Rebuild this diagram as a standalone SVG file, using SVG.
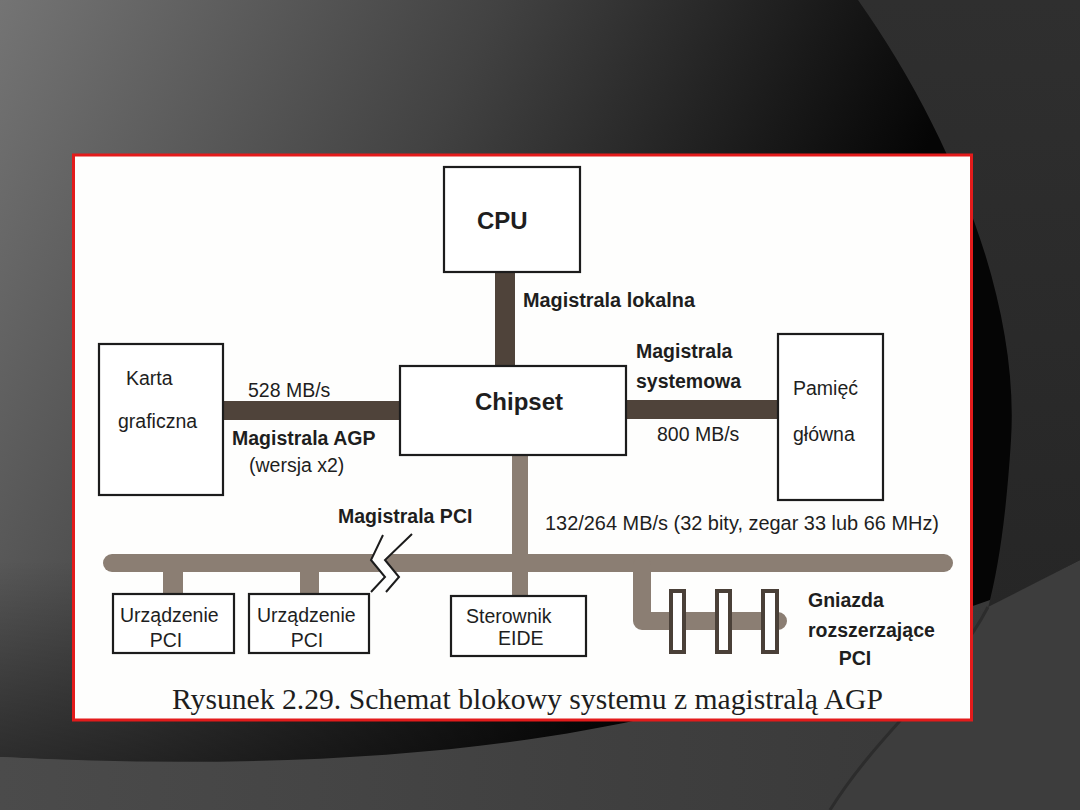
<svg xmlns="http://www.w3.org/2000/svg" width="1080" height="810" viewBox="0 0 1080 810">
  <defs>
    <linearGradient id="bg" gradientUnits="userSpaceOnUse" x1="0" y1="0" x2="800" y2="400">
      <stop offset="0" stop-color="#747474"/>
      <stop offset="0.5" stop-color="#424242"/>
      <stop offset="1" stop-color="#050505"/>
    </linearGradient>
    <linearGradient id="shade" x1="0" y1="0" x2="0" y2="1">
      <stop offset="0" stop-color="#000" stop-opacity="0"/>
      <stop offset="1" stop-color="#000" stop-opacity="0.45"/>
    </linearGradient>
    <linearGradient id="bottomband" x1="0" y1="0" x2="1" y2="0">
      <stop offset="0" stop-color="#4b4b4b"/>
      <stop offset="1" stop-color="#383838"/>
    </linearGradient>
    <linearGradient id="rightarc" x1="0" y1="0" x2="0" y2="1">
      <stop offset="0" stop-color="#2f2f2f"/>
      <stop offset="1" stop-color="#262626"/>
    </linearGradient>
    <style>
      .box { fill: #ffffff; stroke: #1c1c1c; stroke-width: 2.2; }
      .lbl { font-family: "Liberation Sans", Arial, sans-serif; font-size: 19.5px; fill: #1e1e1e; }
      .b { font-weight: bold; }
      .big { font-family: "Liberation Sans", Arial, sans-serif; font-size: 24px; font-weight: bold; fill: #1e1e1e; }
      .dark { fill: #4f433a; }
      .light { fill: #8b7e73; }
      .slot { fill: #ffffff; stroke: #4a4038; stroke-width: 4; }
    </style>
  </defs>

  <!-- slide background -->
  <rect x="0" y="0" width="1080" height="810" fill="url(#bg)"/>
  <path d="M0 560 L700 560 L700 760 C 450 770 250 770 0 757 Z" fill="url(#shade)"/>
  <path d="M0 757 C 250 770 480 757 660 715 L 990 600 L 990 810 L 0 810 Z" fill="url(#bottomband)"/>
  <path d="M858 0 C 950 130 1020 300 1011 440 C 1006 520 998 570 988 608 L 1080 560 L 1080 0 Z" fill="url(#rightarc)"/>
  <path d="M988 607 L 1080 560 L 1080 810 L 830 810 C 880 730 950 680 988 607 Z" fill="#3d3d3d"/>
  <path d="M988 607 C 950 680 880 730 830 810" fill="none" stroke="#2c2c2c" stroke-width="3"/>

  <!-- figure panel -->
  <rect x="73.5" y="155" width="898" height="565" fill="#fefefd" stroke="#e31b1b" stroke-width="3"/>

  <g id="connectors">
    <rect class="dark" x="495" y="270" width="20" height="97"/>
    <rect class="dark" x="222" y="401" width="180" height="19"/>
    <rect class="dark" x="625" y="400" width="154" height="19"/>
    <rect class="light" x="512" y="454" width="16" height="143"/>
    <line x1="112" y1="563" x2="944" y2="563" stroke="#8b7e73" stroke-width="18" stroke-linecap="round"/>
    <rect class="light" x="163" y="571" width="20" height="23"/>
    <rect class="light" x="300" y="571" width="19" height="23"/>
    <path d="M642 565 V 621 H 778" fill="none" stroke="#8b7e73" stroke-width="18" stroke-linecap="round" stroke-linejoin="round"/>
    <polygon points="383,535 371,560 385,577 371,592 386,592 399,577 385,560 412,534" fill="#fefefd"/>
    <polyline points="383,535 371,560 385,577 371,592" fill="none" stroke="#1c1c1c" stroke-width="2"/>
    <polyline points="412,534 385,560 399,577 386,592" fill="none" stroke="#1c1c1c" stroke-width="2"/>
  </g>

  <g id="cpu">
    <rect class="box" x="444" y="167" width="136" height="105"/>
    <text class="big" x="477" y="229">CPU</text>
  </g>
  <g id="chipset">
    <rect class="box" x="400" y="366" width="226" height="89"/>
    <text class="big" x="475" y="410">Chipset</text>
  </g>
  <g id="karta">
    <rect class="box" x="99" y="344" width="124" height="151"/>
    <text class="lbl" x="126" y="385">Karta</text>
    <text class="lbl" x="118" y="428">graficzna</text>
  </g>
  <g id="pamiec">
    <rect class="box" x="778" y="334" width="105" height="166"/>
    <text class="lbl" x="793" y="395">Pamięć</text>
    <text class="lbl" x="793" y="441">główna</text>
  </g>
  <g id="urzadzenie1">
    <rect class="box" x="113" y="594" width="121" height="59"/>
    <text class="lbl" x="120" y="622">Urządzenie</text>
    <text class="lbl" x="166" y="647" text-anchor="middle">PCI</text>
  </g>
  <g id="urzadzenie2">
    <rect class="box" x="249" y="594" width="120" height="59"/>
    <text class="lbl" x="257" y="622">Urządzenie</text>
    <text class="lbl" x="307" y="647" text-anchor="middle">PCI</text>
  </g>
  <g id="sterownik">
    <rect class="box" x="451" y="596" width="135" height="60"/>
    <text class="lbl" x="466" y="623">Sterownik</text>
    <text class="lbl" x="498" y="645">EIDE</text>
  </g>
  <g id="gniazda">
    <rect class="slot" x="671" y="591" width="13" height="61"/>
    <rect class="slot" x="717" y="591" width="13" height="61"/>
    <rect class="slot" x="763" y="591" width="14" height="61"/>
    <text class="lbl b" x="808" y="607">Gniazda</text>
    <text class="lbl b" x="808" y="637">rozszerzające</text>
    <text class="lbl b" x="855" y="665" text-anchor="middle">PCI</text>
  </g>

  <g id="labels">
    <text class="lbl b" x="523" y="307" textLength="172" lengthAdjust="spacingAndGlyphs">Magistrala lokalna</text>
    <text class="lbl b" x="636" y="358">Magistrala</text>
    <text class="lbl b" x="636" y="388">systemowa</text>
    <text class="lbl" x="657" y="441">800 MB/s</text>
    <text class="lbl" x="248" y="397">528 MB/s</text>
    <text class="lbl b" x="232" y="445">Magistrala AGP</text>
    <text class="lbl" x="249" y="472">(wersja x2)</text>
    <text class="lbl b" x="338" y="523">Magistrala PCI</text>
    <text class="lbl" x="545" y="530" textLength="394" lengthAdjust="spacingAndGlyphs">132/264 MB/s (32 bity, zegar 33 lub 66 MHz)</text>
    <text x="172" y="709" font-family="'Liberation Serif', 'Times New Roman', serif" font-size="28.5" fill="#1e1e1e" textLength="711" lengthAdjust="spacingAndGlyphs">Rysunek 2.29. Schemat blokowy systemu z magistralą AGP</text>
  </g>
</svg>
